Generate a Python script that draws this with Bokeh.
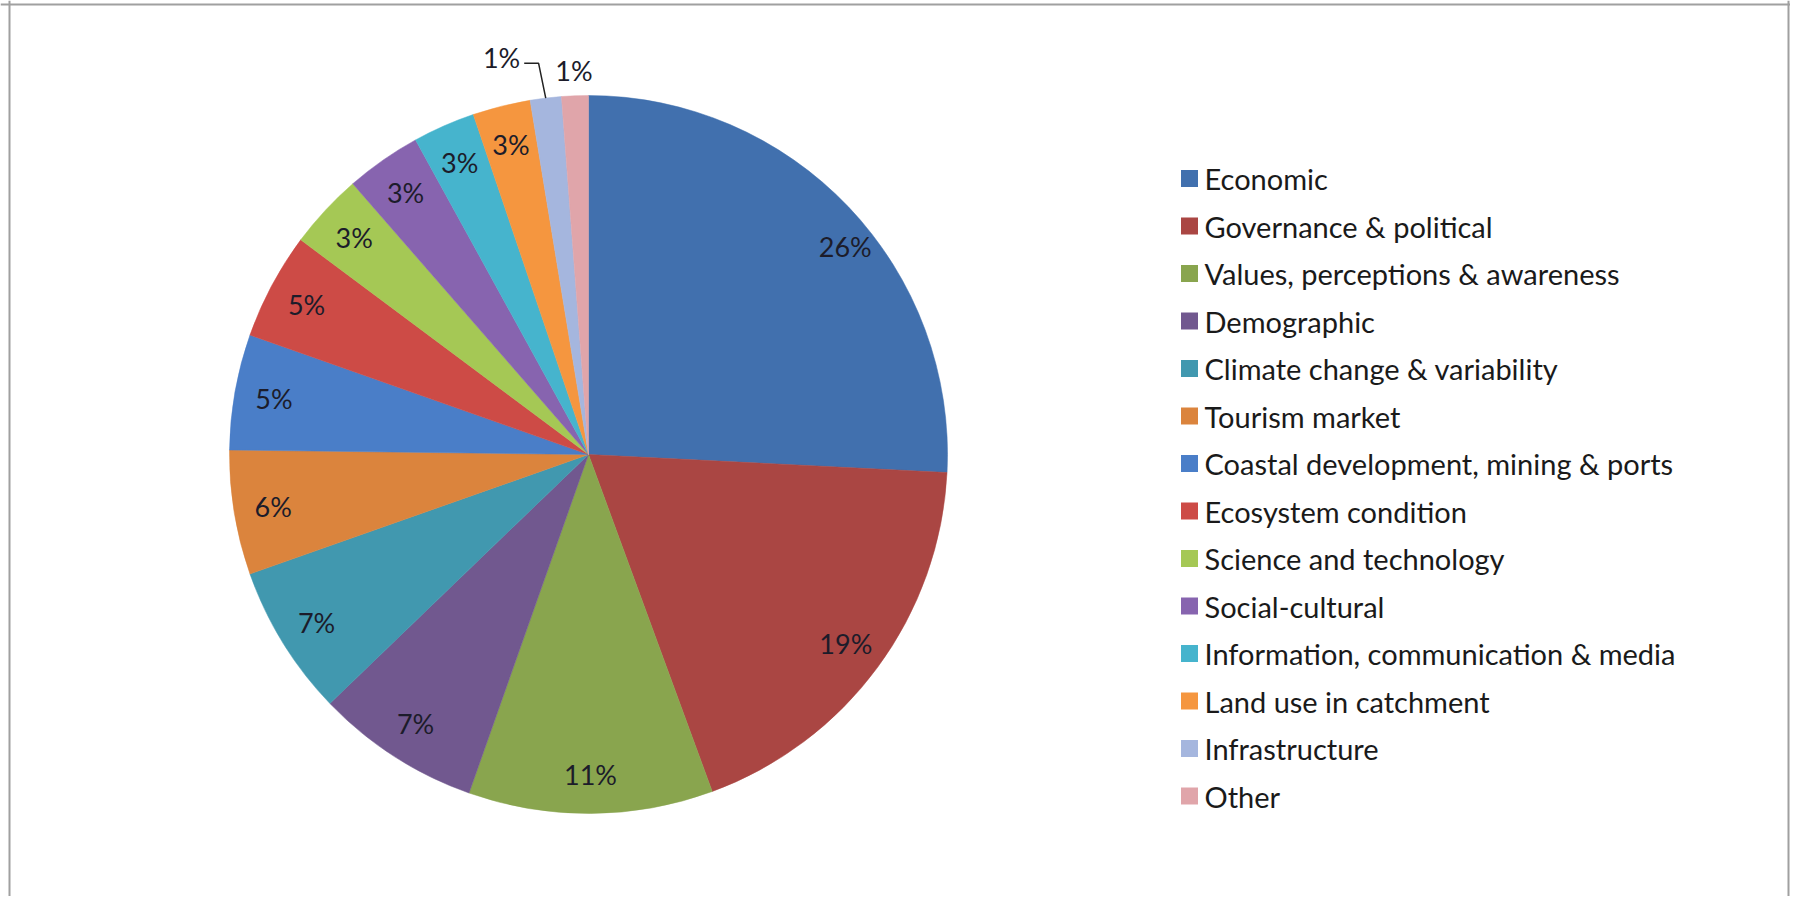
import math
from bokeh.plotting import figure
from bokeh.models import Range1d, ColumnDataSource, Span
from bokeh.core.properties import value
from bokeh.embed import file_html
from bokeh.resources import INLINE

# ---- data ----
categories = ["Economic", "Governance & political", "Values, perceptions & awareness",
              "Demographic", "Climate change & variability", "Tourism market",
              "Coastal development, mining & ports", "Ecosystem condition",
              "Science and technology", "Social-cultural",
              "Information, communication & media", "Land use in catchment",
              "Infrastructure", "Other"]
shares = [25.8, 18.6, 11.0, 7.4, 6.8, 5.6, 5.2, 4.8, 3.4, 3.4, 2.8, 2.6, 1.4, 1.2]
colors = ["#4170AE", "#AA4643", "#89A54E", "#71588F", "#4198AF", "#DB843D",
          "#4A7EC8", "#CD4B46", "#A5C855", "#8764AF", "#46B4CD", "#F5963F",
          "#A5B6DE", "#E0A5AA"]
labels = [f"{round(s)}%" for s in shares]

# ---- layout (window pixel units; y measured upward from window bottom) ----
W, H = 1790, 896
WIN_H = 898
CX, CY, R = 588, WIN_H - 454, 359
FONT = "Lato"

p = figure(width=W, height=H, output_backend="svg", toolbar_location=None,
           x_range=Range1d(0, W), y_range=Range1d(WIN_H - H, WIN_H),
           min_border=0, outline_line_color=None)
p.axis.visible = False
p.grid.visible = False
p.background_fill_color = "white"
p.border_fill_color = "white"

total = sum(shares)
starts, ends, mids = [], [], []
acc = 0.0
for s in shares:
    a0 = acc / total
    acc += s
    a1 = acc / total
    starts.append(math.pi / 2 - a0 * 2 * math.pi)
    ends.append(math.pi / 2 - a1 * 2 * math.pi)
    mids.append(math.pi / 2 - (a0 + a1) / 2 * 2 * math.pi)

src = ColumnDataSource(dict(x=[CX] * len(shares), y=[CY] * len(shares),
                            start=starts, end=ends, color=colors, cat=categories))
p.wedge(x="x", y="y", radius=R, start_angle="start", end_angle="end",
        direction="clock", fill_color="color", line_color="color", line_width=0.5,
        source=src)

# ---- slice labels ----
lx, ly, ltxt, lalign = [], [], [], []
for i, (s, m) in enumerate(zip(shares, mids)):
    if s >= 2:
        r = (0.92 if i == 0 else 0.89) * R
        mm = m - (0.08 if i == 0 else 0.0)
        lx.append(CX + r * math.cos(mm)); ly.append(CY + r * math.sin(mm))
        lalign.append("center")
    elif i == len(shares) - 1:
        r = 1.07 * R
        lx.append(CX + r * math.cos(m)); ly.append(CY + r * math.sin(m))
        lalign.append("center")
    else:
        # moved outside with a leader line
        ex, ey = CX + R * math.cos(m), CY + R * math.sin(m)
        elx, ely = ex - 0.02 * R, CY + 1.09 * R
        endx = elx - 0.04 * R
        p.line([ex, elx, endx], [ey, ely, ely], line_color="#222222", line_width=1.5)
        lx.append(endx - 4); ly.append(ely + 6)
        lalign.append("right")
    ltxt.append(labels[i])

p.text(x=lx, y=ly, text=ltxt, text_align=lalign, text_baseline="middle",
       text_font=value(FONT), text_font_size="27px", text_color="#1c1c2a")

# ---- legend ----
LX, LY0, LSTEP = 1189, WIN_H - 178, 47.5
leg_y = [LY0 - i * LSTEP for i in range(len(categories))]
p.rect(x=[LX] * len(categories), y=leg_y, width=17, height=17,
       width_units="screen", height_units="screen",
       fill_color=colors, line_color=None)
p.text(x=[LX + 15] * len(categories), y=leg_y, text=categories,
       text_align="left", text_baseline="middle",
       text_font=value(FONT), text_font_size="29px", text_color="#1a1a1a")

# ---- frame ----
for loc in (9, 1788):
    p.add_layout(Span(location=loc, dimension="height", line_color="#a0a0a0", line_width=2))
p.add_layout(Span(location=WIN_H - 4, dimension="width", line_color="#a0a0a0", line_width=2))

open("out.html", "w").write(file_html(p, INLINE))
